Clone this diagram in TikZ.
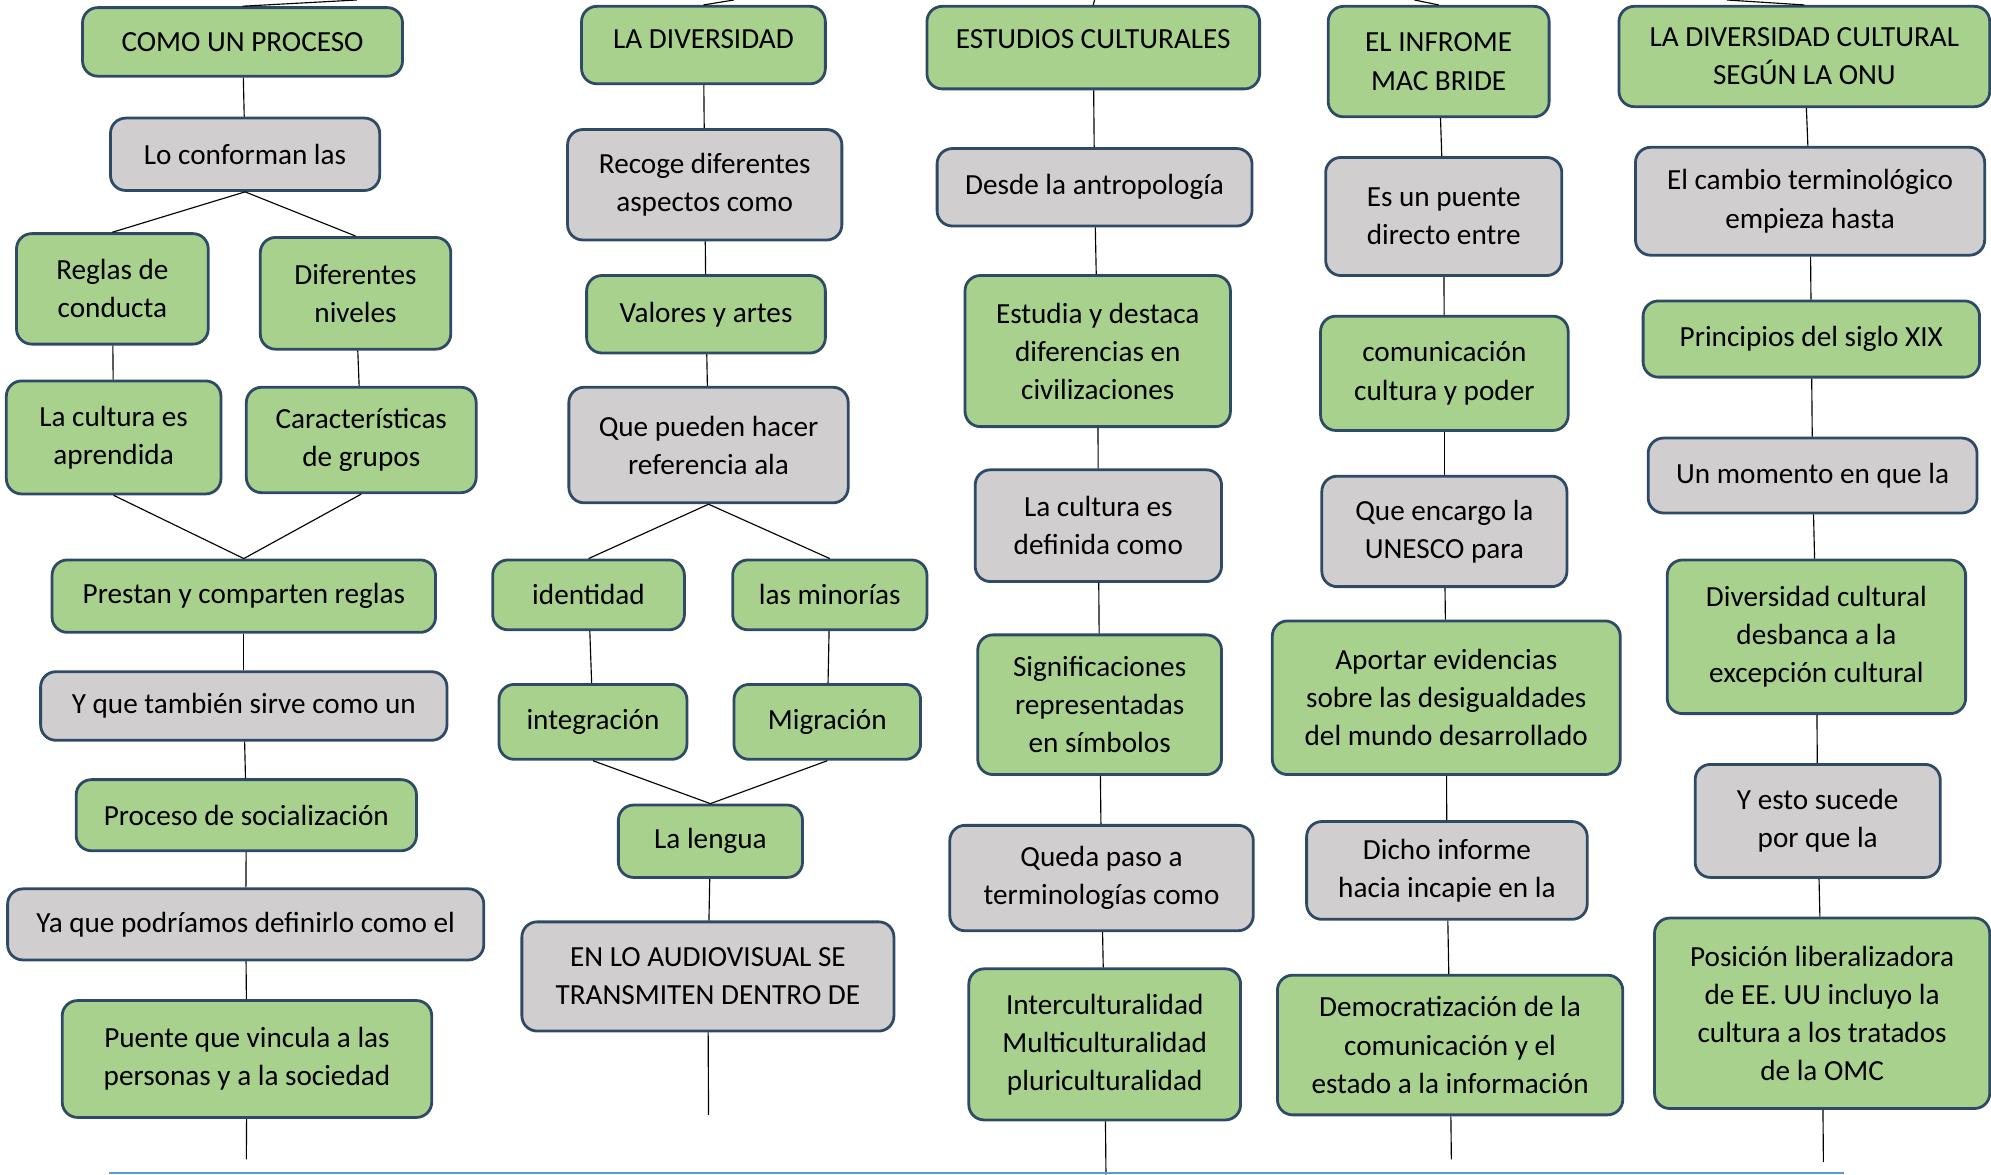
\documentclass[tikz,border=0pt]{standalone}
\usepackage{fontspec}
\setmainfont{Carlito}
\definecolor{boxgreen}{HTML}{A9D18E}
\definecolor{boxgray}{HTML}{D0CECE}
\definecolor{boxline}{HTML}{2F4A66}
\definecolor{baseblue}{HTML}{5B9BD5}
\begin{document}
\begin{tikzpicture}[x=1pt, y=-1pt,
    box/.style={draw=boxline, line width=2.2pt, rounded corners=12pt, align=center,
      inner sep=4pt, font=\fontsize{23}{30}\selectfont},
    gbox/.style={box, fill=boxgreen},
    ybox/.style={box, fill=boxgray},
    boxsize/.style 2 args={minimum width=#1, minimum height=#2},
    raised/.style={text height=16pt, text depth=#1},
    link/.style={line width=0.9pt}]
  \useasboundingbox (0,0) rectangle (1568,925);

  \node[gbox, boxsize={252}{54}] (proceso) at (191,33) {COMO UN PROCESO};
  \node[ybox, boxsize={212}{57}] (conforman) at (193,121.5) {Lo conforman las};
  \node[gbox, boxsize={151}{87}] (reglas) at (88.5,227.5) {Reglas de\\conducta};
  \node[gbox, boxsize={150}{88}] (niveles) at (280,231) {Diferentes\\niveles};
  \node[gbox, boxsize={169}{89}] (aprendida) at (89.5,344.5) {La cultura es\\aprendida};
  \node[gbox, boxsize={181}{83}] (grupos) at (284.5,346.5) {Características\\de grupos};
  \node[gbox, boxsize={302}{57}] (prestan) at (192,469.5) {Prestan y comparten reglas};
  \node[ybox, boxsize={320}{54}] (sirve) at (192,556) {Y que también sirve como un};
  \node[gbox, boxsize={268}{56}] (socializacion) at (194,642) {Proceso de socialización};
  \node[ybox, boxsize={375}{56}] (definirlo) at (193.5,728) {Ya que podríamos definirlo como el};
  \node[gbox, boxsize={291}{92}] (vincula) at (194.5,834) {Puente que vincula a las\\personas y a la sociedad};

  \node[gbox, raised=10pt, boxsize={192}{61}] (diversidad) at (554,35.5) {LA DIVERSIDAD};
  \node[ybox, boxsize={216}{87}] (recoge) at (555,145.5) {Recoge diferentes\\aspectos como};
  \node[gbox, boxsize={188}{61}] (valores) at (556,247.5) {Valores y artes};
  \node[ybox, boxsize={220}{91}] (referencia) at (558,350.5) {Que pueden hacer\\referencia ala};
  \node[gbox, boxsize={151}{55}] (identidad) at (463.5,468.5) {identidad};
  \node[gbox, boxsize={153}{55}] (minorias) at (653.5,468.5) {las minorías};
  \node[gbox, boxsize={148}{59}] (integracion) at (467,568.5) {integración};
  \node[gbox, boxsize={147}{59}] (migracion) at (651.5,568.5) {Migración};
  \node[gbox, boxsize={145}{57}] (lengua) at (559.5,662.5) {La lengua};
  \node[ybox, boxsize={293}{86}] (audiovisual) at (557.5,769) {EN LO AUDIOVISUAL SE\\TRANSMITEN DENTRO DE};

  \node[gbox, raised=14pt, boxsize={262}{65}] (estudios) at (861,37.5) {ESTUDIOS CULTURALES};
  \node[ybox, boxsize={248}{61}] (antropologia) at (862,147.5) {Desde la antropología};
  \node[gbox, boxsize={209}{119}] (destaca) at (864.5,276.5) {Estudia y destaca\\diferencias en\\civilizaciones};
  \node[ybox, boxsize={194}{88}] (definida) at (865,414) {La cultura es\\definida como};
  \node[gbox, boxsize={192}{110}] (simbolos) at (866,555) {Significaciones\\representadas\\en símbolos};
  \node[ybox, boxsize={239}{83}] (terminologias) at (867.5,691.5) {Queda paso a\\terminologías como};
  \node[gbox, boxsize={214}{119}] (intercultural) at (870,822.5) {Interculturalidad\\Multiculturalidad\\pluriculturalidad};

  \node[gbox, boxsize={174}{87}] (informe) at (1133,48.5) {EL INFROME\\MAC BRIDE};
  \node[ybox, boxsize={186}{93}] (directo) at (1137,170.5) {Es un puente\\directo entre};
  \node[gbox, boxsize={195}{90}] (poder) at (1137.5,294) {comunicación\\cultura y poder};
  \node[ybox, boxsize={193}{87}] (unesco) at (1137.5,418.5) {Que encargo la\\UNESCO para};
  \node[gbox, boxsize={274}{121}] (evidencias) at (1139,549.5) {Aportar evidencias\\sobre las desigualdades\\del mundo desarrollado};
  \node[ybox, boxsize={221}{77}] (incapie) at (1139.5,685.5) {Dicho informe\\hacia incapie en la};
  \node[gbox, boxsize={272}{110}] (democratizacion) at (1142,823) {Democratización de la\\comunicación y el\\estado a la información};

  \node[gbox, boxsize={292}{79}] (onu) at (1421,44.5) {LA DIVERSIDAD CULTURAL\\SEGÚN LA ONU};
  \node[ybox, boxsize={275}{85}] (cambio) at (1425.5,158.5) {El cambio terminológico\\empieza hasta};
  \node[gbox, boxsize={265}{60}] (siglo) at (1426.5,267) {Principios del siglo XIX};
  \node[ybox, boxsize={259}{59}] (momento) at (1427.5,374.5) {Un momento en que la};
  \node[gbox, boxsize={235}{121}] (desbanca) at (1430.5,501.5) {Diversidad cultural\\desbanca a la\\excepción cultural};
  \node[ybox, boxsize={193}{89}] (sucede) at (1431.5,646.5) {Y esto sucede\\por que la};
  \node[gbox, boxsize={264}{150}] (omc) at (1435,798) {Posición liberalizadora\\de EE. UU incluyo la\\cultura a los tratados\\de la OMC};

  \coordinate (top1) at (281,0);
  \coordinate (top2) at (578,0);
  \coordinate (top3) at (862,0);
  \coordinate (top4) at (1114,0);
  \coordinate (top5) at (1360,0);
  \coordinate (end1) at (194,913);
  \coordinate (end2) at (558,878);
  \coordinate (end3) at (871,925);
  \coordinate (end4) at (1143,913);
  \coordinate (end5) at (1436,915);
  \coordinate (blueL) at (86,924);
  \coordinate (blueR) at (1452,924);

  \foreach \a/\b in {proceso/conforman, reglas/aprendida, niveles/grupos,
      prestan/sirve, sirve/socializacion, socializacion/definirlo, definirlo/vincula,
      diversidad/recoge, recoge/valores, valores/referencia, identidad/integracion,
      minorias/migracion, lengua/audiovisual,
      estudios/antropologia, antropologia/destaca, destaca/definida, definida/simbolos,
      simbolos/terminologias, terminologias/intercultural,
      informe/directo, directo/poder, poder/unesco, unesco/evidencias,
      evidencias/incapie, incapie/democratizacion,
      onu/cambio, cambio/siglo, siglo/momento, momento/desbanca,
      desbanca/sucede, sucede/omc}
    \draw[link] (\a) -- (\b);

  \foreach \a/\b in {conforman/reglas, conforman/niveles, aprendida/prestan, grupos/prestan,
      referencia/identidad, referencia/minorias, integracion/lengua, migracion/lengua}
    \draw[link] (\a.south) -- (\b.north);

  \draw[link] (vincula) -- (end1);
  \draw[link] (audiovisual) -- (end2);
  \draw[link] (intercultural) -- (end3);
  \draw[link] (democratizacion) -- (end4);
  \draw[link] (omc) -- (end5);

  \draw[link] (proceso.north) -- (top1);
  \draw[link] (diversidad.north) -- (top2);
  \draw[link] (estudios.north) -- (top3);
  \draw[link] (informe.north) -- (top4);
  \draw[link] (onu.north) -- (top5);

  \draw[baseblue, line width=1.5pt] (blueL) -- (blueR);
\end{tikzpicture}
\end{document}
